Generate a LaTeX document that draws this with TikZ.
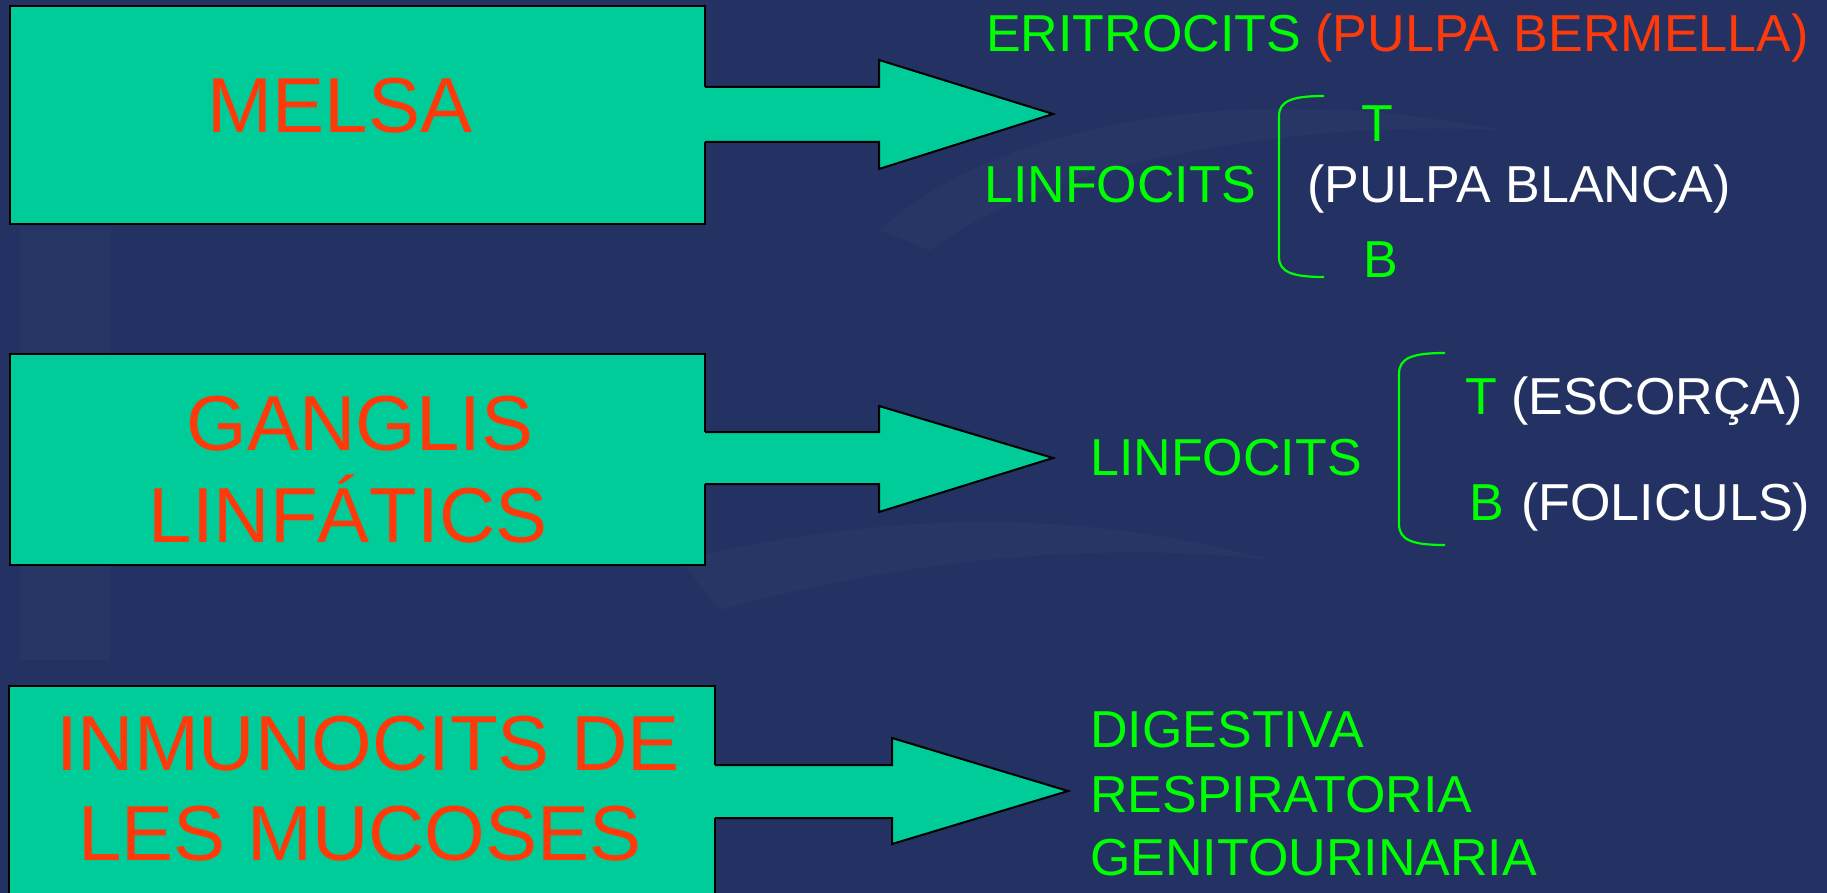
\documentclass[tikz,border=0pt]{standalone}
\usepackage{fontspec}
\setmainfont{Liberation Sans}
\definecolor{bgnavy}{HTML}{233262}
\definecolor{boxfill}{HTML}{00CC99}
\definecolor{redtxt}{HTML}{FF3A0A}
\definecolor{greentxt}{HTML}{00FF00}
\tikzset{
  organbox/.style={draw=black, line width=2pt, fill=boxfill, anchor=north west, inner sep=0pt},
  arrowfill/.style={fill=boxfill},
  arrowline/.style={draw=black, line width=2pt, line join=miter},
  redlabel/.style={text=redtxt, font=\fontsize{78}{80}\selectfont, anchor=base, inner sep=0pt},
  greenlabel/.style={text=greentxt, font=\fontsize{52}{60}\selectfont, anchor=base west, inner sep=0pt},
  whitelabel/.style={text=white, font=\fontsize{52}{60}\selectfont, anchor=base west, inner sep=0pt},
  bracket/.style={draw=greentxt, line width=2.2pt},
}
\begin{document}
\begin{tikzpicture}[x=1pt,y=-1pt]
\useasboundingbox (0,0) rectangle (1827,893);
\fill[bgnavy] (0,0) rectangle (1827,893);
% faint background swooshes
\fill[white, opacity=0.025] (680,560) .. controls (850,520) and (1050,500) .. (1270,560) .. controls (1100,540) and (900,560) .. (720,610) -- cycle;
\fill[white, opacity=0.025] (880,230) .. controls (1000,120) and (1250,80) .. (1500,130) .. controls (1300,120) and (1050,160) .. (930,250) -- cycle;
\fill[white, opacity=0.02] (20,230) rectangle (110,660);

% ---------- Row 1 ----------
\node[organbox, minimum width=695pt, minimum height=218pt] (b1) at (9,5) {};
\fill[arrowfill] (702,87) -- (879,87) -- (879,60) -- (1053,114) -- (879,169) -- (879,142) -- (702,142) -- cycle;
\coordinate (a1s) at (b1.east |- 0,87);
\coordinate (a1e) at (b1.east |- 0,142);
\coordinate (a1tip) at (1053,114);
\draw[arrowline] ([xshift=-1pt]a1s) -- (879,87) -- (879,60) -- (a1tip) -- (879,169) -- (879,142) -- ([xshift=-1pt]a1e);
\node[redlabel] (t1) at (340,133) {MELSA};

\node[greenlabel] (eri) at (986,52) {ERITROCITS {\color{redtxt}(PULPA BERMELLA)}};
\node[greenlabel] (lin1) at (984,203) {LINFOCITS};
\node[greenlabel] (lt1) at (1361,142) {T};
\node[whitelabel] (pb) at (1307,203) {(PULPA BLANCA)};
\node[greenlabel] (lb1) at (1363,277) {B};
\draw[bracket] (1324,96) .. controls (1292,96) and (1279,101) .. (1279,116) -- (1279,257) .. controls (1279,272) and (1292,277) .. (1324,277);

% ---------- Row 2 ----------
\node[organbox, minimum width=695pt, minimum height=211pt] (b2) at (9,353) {};
\fill[arrowfill] (702,432) -- (879,432) -- (879,406) -- (1053,458) -- (879,512) -- (879,484) -- (702,484) -- cycle;
\coordinate (a2s) at (b2.east |- 0,432);
\coordinate (a2e) at (b2.east |- 0,484);
\coordinate (a2tip) at (1053,458);
\draw[arrowline] ([xshift=-1pt]a2s) -- (879,432) -- (879,406) -- (a2tip) -- (879,512) -- (879,484) -- ([xshift=-1pt]a2e);
\node[redlabel] (t2a) at (360,450) {GANGLIS};
\node[redlabel] (t2b) at (348,542) {LINFÁTICS};

\node[greenlabel] (lin2) at (1090,475) {LINFOCITS};
\node[greenlabel] (lt2) at (1465,414) {T};
\node[whitelabel] (esc) at (1511,414) {(ESCORÇA)};
\node[greenlabel] (lb2) at (1469,520) {B};
\node[whitelabel] (fol) at (1521,520) {(FOLICULS)};
\draw[bracket] (1445,353) .. controls (1412,353) and (1399,358) .. (1399,374) -- (1399,524) .. controls (1399,540) and (1412,545) .. (1445,545);

% ---------- Row 3 ----------
\node[organbox, minimum width=706pt, minimum height=215pt] (b3) at (8,685) {};
\fill[arrowfill] (712,765) -- (892,765) -- (892,738) -- (1068,791) -- (892,844) -- (892,818) -- (712,818) -- cycle;
\coordinate (a3s) at (b3.east |- 0,765);
\coordinate (a3e) at (b3.east |- 0,818);
\coordinate (a3tip) at (1068,791);
\draw[arrowline] ([xshift=-1pt]a3s) -- (892,765) -- (892,738) -- (a3tip) -- (892,844) -- (892,818) -- ([xshift=-1pt]a3e);
\node[redlabel] (t3a) at (368,770) {INMUNOCITS DE};
\node[redlabel] (t3b) at (360,860) {LES MUCOSES};

\node[greenlabel] (dig) at (1090,747) {DIGESTIVA};
\node[greenlabel] (res) at (1090,812) {RESPIRATORIA};
\node[greenlabel] (gen) at (1090,875) {GENITOURINARIA};
\end{tikzpicture}
\end{document}
